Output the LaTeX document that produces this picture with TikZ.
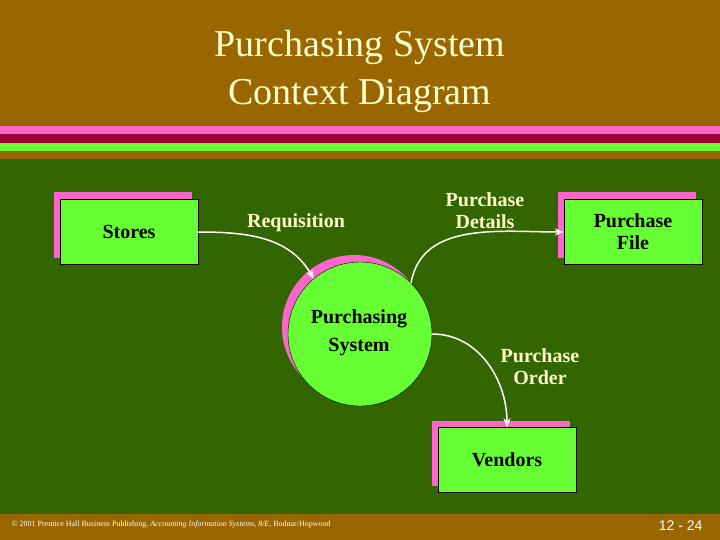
\documentclass[tikz,border=0pt]{standalone}
\usepackage{fontspec}
\setmainfont{Liberation Serif}
\newfontfamily\sansf{Liberation Sans}
\usetikzlibrary{arrows.meta}
\definecolor{bgbrown}{HTML}{996600}
\definecolor{bggreen}{HTML}{336600}
\definecolor{pinkc}{HTML}{FF66CC}
\definecolor{redc}{HTML}{990033}
\definecolor{lgreen}{HTML}{66FF33}
\definecolor{titlec}{HTML}{FFFFCC}
\tikzset{
 boxnode/.style={draw=black,fill=lgreen,minimum width=138pt,minimum height=65pt,font=\bfseries\fontsize{20}{22}\selectfont,align=center,inner sep=0pt},
 shadowbox/.style={fill=pinkc,minimum width=138pt,minimum height=65pt,inner sep=0pt},
 flowlabel/.style={text=titlec,font=\bfseries\fontsize{20}{22}\selectfont,align=center},
 flow/.style={draw=white,line width=1.5pt,-{Stealth[length=9pt,width=7pt]}}
}
\begin{document}
\begin{tikzpicture}[x=1pt,y=-1pt]
\useasboundingbox (0,0) rectangle (720,540);
\fill[bgbrown] (0,0) rectangle (720,540);
\fill[pinkc] (0,126) rectangle (720,134);
\fill[redc] (0,134) rectangle (720,143);
\fill[lgreen] (0,143) rectangle (720,151);
\fill[bggreen] (0,159) rectangle (720,514);
\node (title) [text=titlec,font=\fontsize{38}{48}\selectfont,align=center] at (360,71) {Purchasing System\\Context Diagram};
% shadows
\node (s1) [shadowbox] at (123,225) {};
\node (s2) [shadowbox] at (627,225) {};
\node (s3) [shadowbox] at (501,453) {};
\node (sc) [circle,fill=pinkc,minimum size=144pt,inner sep=0pt] at (354,327) {};
% nodes
\node (stores) [boxnode] at (129,232) {Stores};
\node (pfile) [boxnode] at (633,232) {Purchase\\File};
\node (vendors) [boxnode] at (507,460) {\raisebox{0pt}{Vendors}};
\node (ps) [circle,draw=black,fill=lgreen,minimum size=144pt,inner sep=0pt,font=\bfseries\fontsize{20}{22}\selectfont,align=center] at (360,334) {};
\node (pstext) [font=\bfseries\fontsize{20}{28}\selectfont,align=center] at (359,333) {Purchasing\\System};
% labels
\node (l1) [flowlabel] at (296,223) {Requisition};
\node (l2) [flowlabel] at (485,211) {Purchase\\Details};
\node (l3) [flowlabel] at (540,367) {Purchase\\Order};
% flows
\draw[flow] (stores.east) to[out=0,in=120] (ps.130);
\draw[flow] (ps.45) to[out=80,in=180] (pfile.west);
\draw[flow] (ps.0) to[out=0,in=90] (vendors.north);
% footer
\node (foot) [anchor=west,text=white,font=\fontsize{8}{10}\selectfont] at (8,525) {\textcopyright{} 2001 Prentice Hall Business Publishing, \textit{Accounting Information Systems, 8/E}, Bodnar/Hopwood};
\node (page) [anchor=east,text=white,font=\sansf\fontsize{14}{16}\selectfont] at (706,526) {12 - 24};
\end{tikzpicture}
\end{document}
